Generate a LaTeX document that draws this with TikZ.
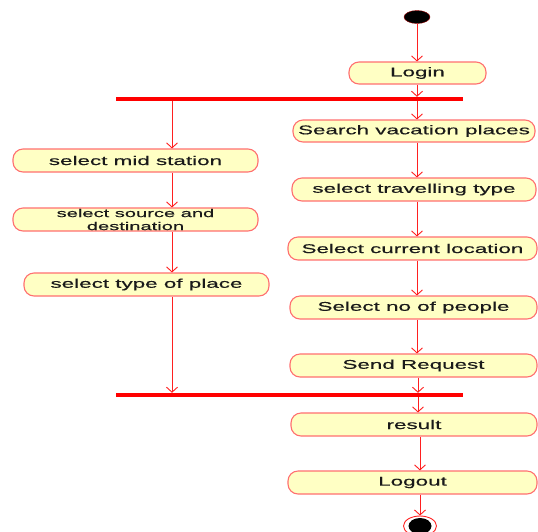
\documentclass[tikz,border=0pt]{standalone}
\usepackage{fontspec}
\newfontfamily\dfont[FakeStretch=1.78,FakeBold=0.35]{Liberation Sans}
\usetikzlibrary{arrows.meta,shapes.geometric}
\definecolor{boxfill}{HTML}{FFFFC4}
\definecolor{boxline}{HTML}{FF7070}
\definecolor{arrline}{HTML}{FF2020}
\definecolor{txt}{HTML}{1A1A1A}
\tikzset{
  act/.style={draw=boxline, fill=boxfill, line width=1.1pt, rounded corners=10pt,
    minimum height=23pt, inner sep=0pt, text=txt, align=center,
    font=\dfont\fontsize{12.6}{15}\selectfont},
  bar/.style={fill=red, draw=none, minimum height=4pt, minimum width=347pt, inner sep=0pt},
  arr/.style={draw=arrline, line width=0.9pt, -{Straight Barb[length=5pt,width=11pt]}},
  ln/.style={draw=arrline, line width=0.9pt}
}
\begin{document}
\begin{tikzpicture}[x=1pt,y=-1pt]
\useasboundingbox (0,0) rectangle (538,531);
\clip (0,0) rectangle (538,531);
\fill[white] (0,0) rectangle (538,531);
% start
\node[ellipse, fill=black, draw=red!60!black, line width=0.4pt, minimum width=26pt, minimum height=13pt, inner sep=0pt] (start) at (417,17) {};
% right column
\node[act, minimum width=137pt, minimum height=22pt] (login) at (417.5,73) {Login};
\node[bar] (fork) at (289,99) {};
\node[act, minimum width=242pt, minimum height=22pt] (search) at (414,131) {Search vacation places};
\node[act, minimum width=244pt] (travel) at (414,189.5) {select travelling type};
\node[act, minimum width=249pt] (curloc) at (412.5,248.5) {Select current location};
\node[act, minimum width=247pt] (people) at (413.5,307.5) {Select no of people};
\node[act, minimum width=247pt] (send) at (413.5,365.5) {Send Request};
\node[bar] (join) at (289,395) {};
\node[act, minimum width=246pt] (result) at (414,424.5) {result};
\node[act, minimum width=249pt] (logout) at (412.5,482.5) {Logout};
% left column
\node[act, minimum width=245pt] (mid) at (135.5,160.5) {select mid station};
\node[act, minimum width=245pt, font=\dfont\fontsize{11.3}{13}\selectfont] (srcdst) at (135.5,219.5) {select source and\\destination};
\node[act, minimum width=245pt] (ptype) at (146.5,284.5) {select type of place};
% end
\node[ellipse, draw=arrline, fill=white, line width=0.9pt, minimum width=33pt, minimum height=20pt, inner sep=0pt] (endo) at (420,526) {};
\node[ellipse, fill=black, minimum width=23pt, minimum height=16pt, inner sep=0pt] (endi) at (420,526) {};
% column coordinates
\coordinate (cl) at (172,0);
\coordinate (cr) at (417,0);
\coordinate (cr2) at (418,0);
\coordinate (cr3) at (420,0);
% connectors
\draw[arr] (start.south -| cr) -- (login.north -| cr);
\draw[arr] (login.south -| cr) -- (fork.north -| cr);
\draw[arr] (fork.south -| cr) -- (search.north -| cr);
\draw[arr] (search.south -| cr) -- (travel.north -| cr);
\draw[arr] (travel.south -| cr) -- (curloc.north -| cr);
\draw[arr] (curloc.south -| cr) -- (people.north -| cr);
\draw[arr] (people.south -| cr) -- (send.north -| cr);
\draw[arr] (send.south -| cr2) -- (join.north -| cr2);
\draw[arr] (join.south -| cr2) -- (result.north -| cr2);
\draw[arr] (result.south -| cr3) -- (logout.north -| cr3);
\draw[arr] (logout.south -| cr3) -- (endo.north -| cr3);
\draw[arr] (fork.south -| cl) -- (mid.north -| cl);
\draw[arr] (mid.south -| cl) -- (srcdst.north -| cl);
\draw[arr] (srcdst.south -| cl) -- (ptype.north -| cl);
\draw[arr] (ptype.south -| cl) -- (join.north -| cl);
\end{tikzpicture}
\end{document}
